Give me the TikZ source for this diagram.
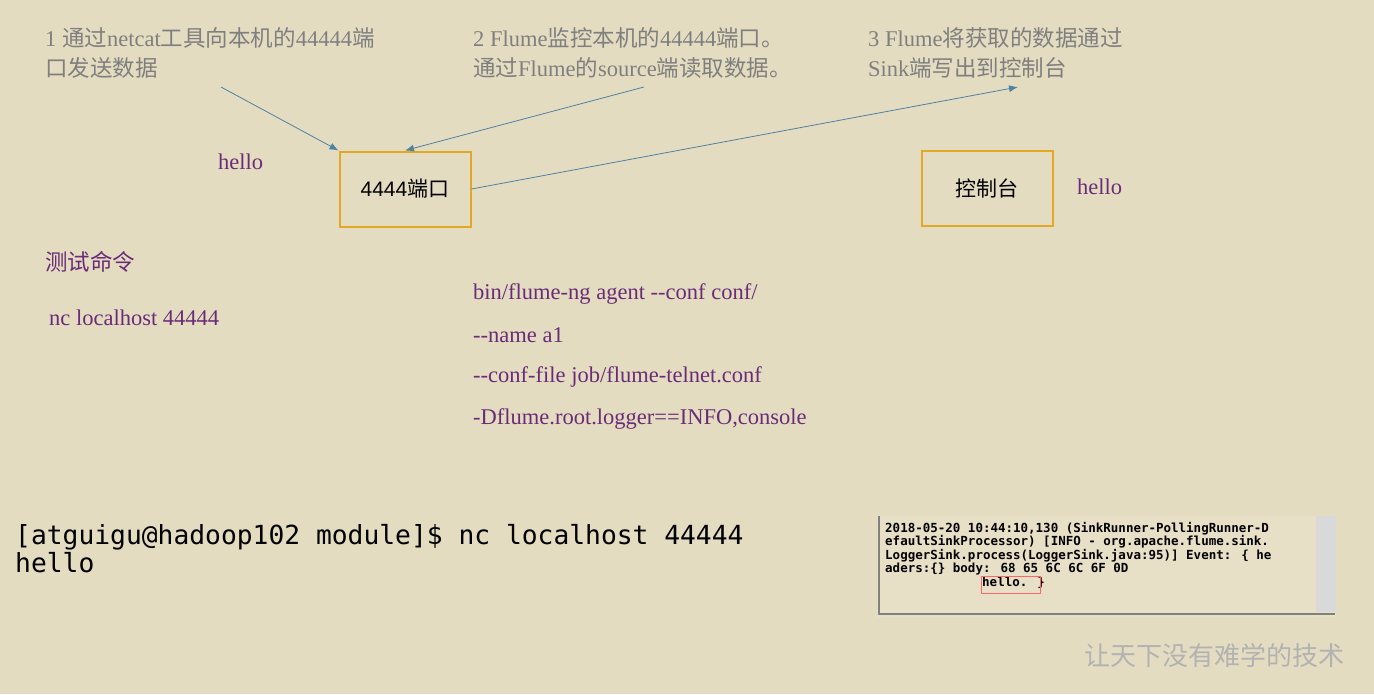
\documentclass[tikz,border=0pt]{standalone}
\usepackage{fontspec}
\setmainfont{Liberation Serif}
\newfontfamily\cjk{Noto Sans CJK SC}
\newfontfamily\mono{DejaVu Sans Mono}
\newfontfamily\sans{Liberation Sans}
\usetikzlibrary{arrows.meta}
\definecolor{bg}{HTML}{E4DCC0}
\definecolor{gr}{HTML}{7F7F7F}
\definecolor{pu}{HTML}{6A2C78}
\definecolor{ar}{HTML}{4F82A3}
\definecolor{bx}{HTML}{E3A826}
\tikzset{
 toptxt/.style={text=gr,font=\fontsize{22.5}{30}\selectfont,align=left,anchor=north west,inner sep=0},
 ptxt/.style={text=pu,font=\fontsize{22.5}{24}\selectfont,anchor=west,inner sep=0},
 box/.style={draw=bx,line width=2pt,minimum width=131,minimum height=75,font=\fontsize{21}{24}\sans},
 arr/.style={draw=ar,line width=0.8pt,-{Latex[length=9pt,width=7pt]}},
}
\begin{document}
\begin{tikzpicture}[x=1pt,y=-1pt]
\fill[bg] (0,0) rectangle (1374,694);
\useasboundingbox (0,0) rectangle (1374,694);
\node[toptxt] (t1) at (45,27) {1 {\cjk 通过}netcat{\cjk 工具向本机的}44444{\cjk 端}\\{\cjk 口发送数据}};
\node[toptxt] (t2) at (473,27) {2 Flume{\cjk 监控本机的}44444{\cjk 端口。}\\{\cjk 通过}Flume{\cjk 的}source{\cjk 端读取数据。}};
\node[toptxt] (t3) at (868,27) {3 Flume{\cjk 将获取的数据通过}\\Sink{\cjk 端写出到控制台}};
\node[box] (p) at (405,189) {4444{\cjk 端口}};
\node[box] (c) at (987,188) {{\cjk 控制台}};
\node[ptxt] (h1) at (218,162) {hello};
\node[ptxt] (h2) at (1077,187) {hello};
\coordinate (a1) at (221,87);
\coordinate (a2) at (644,87);
\coordinate (a3) at (1018,87);
\draw[arr] (a1) -- (p.north west);
\draw[arr] (a2) -- (p.north);
\draw[arr] (p.east) -- (a3);
\node[ptxt] (cmd) at (45,262) {\cjk 测试命令};
\node[ptxt] (nc) at (49,318) {nc localhost 44444};
\node[ptxt] (f1) at (473,294) {bin/flume-ng agent {-}{-}conf conf/};
\node[ptxt] (f2) at (473,335) {{-}{-}name a1};
\node[ptxt] (f3) at (473,377) {{-}{-}conf-file job/flume-telnet.conf};
\node[ptxt] (f4) at (473,419) {-Dflume.root.logger==INFO,console};
\node[anchor=north west,inner sep=0,align=left,font=\fontsize{26.3}{28}\mono] (term) at (15,524) {[atguigu@hadoop102 module]\$ nc localhost 44444\\hello};
\fill[bg!90!white] (877,516) rectangle (1336,617);
\draw[gray,line width=1.5pt] (879,516) -- (879,614) -- (1335,614);
\fill[gray!30] (1316,516) rectangle (1336,612);
\node[anchor=north west,inner sep=0,align=left,font=\fontsize{12.5}{13.5}\mono\bfseries] (log) at (885,522) {2018-05-20 10:44:10,130 (SinkRunner-PollingRunner-D\\efaultSinkProcessor) [INFO - org.apache.flume.sink.\\LoggerSink.process(LoggerSink.java:95)] Event: \{ he\\aders:\{\} body: 68 65 6C 6C 6F 0D\\\hspace*{97pt}hello. \}};
\draw[red!60,line width=0.8pt] (981,576) rectangle (1040,593);
\node[text=gray!60,font=\fontsize{26}{28}\cjk,anchor=east,inner sep=0] (wm) at (1345,656) {让天下没有难学的技术};
\end{tikzpicture}
\end{document}
